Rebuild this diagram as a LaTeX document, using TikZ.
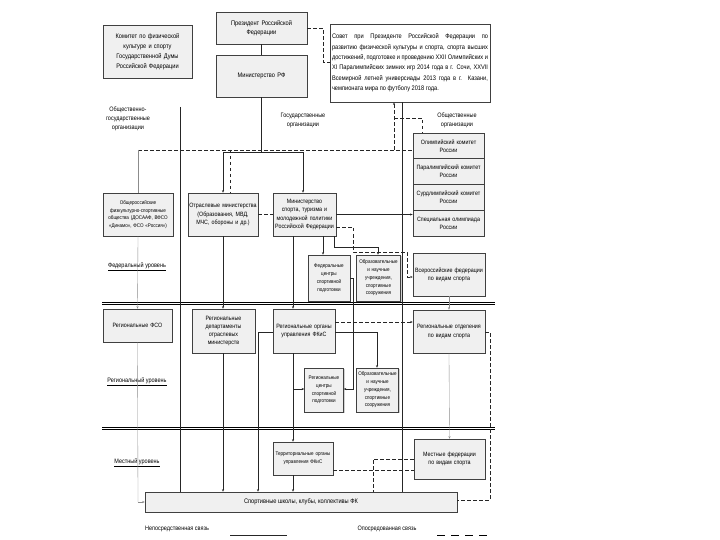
\documentclass[tikz,border=0pt]{standalone}
\usepackage{fontspec}
\setmainfont{Liberation Sans}[FakeStretch=0.86]
\usetikzlibrary{arrows.meta,shadows}
\begin{document}
\begin{tikzpicture}[x=1pt,y=-1pt,
  box/.style={draw=black!75, fill=black!6, line width=0.5pt, inner sep=1pt, align=center,
    font=\fontsize{6.2}{8.2}\selectfont, drop shadow={shadow xshift=1pt,shadow yshift=-1pt,opacity=0.35}},
  sbox/.style={box, font=\fontsize{5.3}{7.8}\selectfont},
  lbl/.style={align=center, font=\fontsize{6.4}{9}\selectfont, inner sep=0pt},
  con/.style={line width=0.55pt, black!85},
  thin/.style={line width=0.35pt, black!45},
  dsh/.style={line width=0.55pt, black!85, dash pattern=on 3.5pt off 2.5pt},
  sep/.style={line width=1pt, black!85},
  arr/.style={-{Stealth[length=2.5pt,width=2pt]}}]
\useasboundingbox (0,0) rectangle (720,540);

% top boxes
\node[box, minimum width=89, minimum height=53, text width=86, font=\fontsize{6.6}{10}\selectfont] (com) at (147.5,51.5)
  {Комитет по физической\\культуре и спорту\\Государственной Думы\\Российской Федерации};
\node[box, minimum width=91, minimum height=32, text width=86, font=\fontsize{6.6}{9.5}\selectfont] (pres) at (261.5,28) {Президент Российской\\Федерации};
\node[box, minimum width=91, minimum height=42, text width=86, font=\fontsize{6.6}{9.5}\selectfont] (minrf) at (261.5,76) {Министерство РФ};
\node[box, fill=white, line width=0.8pt, minimum width=160, minimum height=78, text width=156, align=justify,
  font=\fontsize{6.6}{10.4}\selectfont] (council) at (410,63)
  {Совет при Президенте Российской Федерации по развитию физической культуры и спорта, спорта высших достижений, подготовке и проведению XXII Олимпийских и XI Паралимпийских зимних игр 2014 года в г. Сочи, XXVII Всемирной летней универсиады 2013 года в г. Казани, чемпионата мира по футболу 2018 года.};

% column labels
\node[lbl] (ogo) at (128,119) {Общественно-\\государственные\\организации};
\node[lbl] (gos) at (303,120) {Государственные\\организации};
\node[lbl] (obs) at (457,120) {Общественные\\организации};

% public organisations group
\node[box, line width=0.7pt, minimum width=71, minimum height=25.75, text width=68] (olymp) at (448.5,145.9) {Олимпийский комитет\\России};
\node[box, line width=0.7pt, minimum width=71, minimum height=25.75, text width=68] (paral) at (448.5,171.6) {Паралимпийский комитет\\России};
\node[box, line width=0.7pt, minimum width=71, minimum height=25.75, text width=68] (surd) at (448.5,197.4) {Сурдлимпийский комитет\\России};
\node[box, line width=0.7pt, minimum width=71, minimum height=25.75, text width=68] (spec) at (448.5,223.1) {Специальная олимпиада\\России};

% federal level
\node[sbox, minimum width=70, minimum height=43, text width=66] (fso) at (138,214.5)
  {Общероссийские физкультурно-спортивные общества (ДОСААФ, ВФСО «Динамо», ФСО «Россия»)};
\node[box, minimum width=70, minimum height=43, text width=68] (otr) at (223,214.5)
  {Отраслевые министерства (Образования, МВД, МЧС, обороны и др.)};
\node[box, minimum width=63, minimum height=43, text width=61] (minsport) at (304.5,214.5)
  {Министерство спорта, туризма и молодежной политики Российской Федерации};
\node[sbox, minimum width=42, minimum height=46, text width=40] (fedc) at (329,278)
  {Федеральные центры спортивной подготовки};
\node[sbox, minimum width=43, minimum height=46, text width=42] (fedobr) at (378.5,278)
  {Образовательные и научные учреждения, спортивные сооружения};
\node[box, minimum width=72, minimum height=43, text width=70] (vseros) at (449,274.5)
  {Всероссийские федерации по видам спорта};
\node[lbl] (fedl) at (137,267) {\underline{Федеральный уровень}};

% regional level
\node[box, minimum width=69, minimum height=33, text width=66] (regfso) at (137.5,325.5) {Региональные ФСО};
\node[box, minimum width=63, minimum height=44, text width=60] (regdep) at (223.5,331)
  {Региональные департаменты отраслевых министерств};
\node[box, minimum width=62, minimum height=44, text width=60] (regorg) at (304,331)
  {Региональные органы управления ФКиС};
\node[box, minimum width=72, minimum height=43, text width=70] (regotd) at (449,331.5)
  {Региональные отделения по видам спорта};
\node[lbl] (regl) at (137,382) {\underline{Региональный уровень}};
\node[sbox, minimum width=38, minimum height=44, text width=37] (regc) at (324,390)
  {Региональные центры спортивной подготовки};
\node[sbox, minimum width=41, minimum height=44, text width=40] (regobr) at (377.5,390)
  {Образовательные и научные учреждения, спортивные сооружения};

% local level
\node[sbox, minimum width=60, minimum height=33, text width=58] (terr) at (303,458.5)
  {Территориальные органы управления ФКиС};
\node[box, minimum width=71, minimum height=40, text width=68] (mestfed) at (449.5,459)
  {Местные федерации по видам спорта};
\node[lbl] (locl) at (137,463) {\underline{Местный уровень}};
\node[box, minimum width=312, minimum height=20, font=\fontsize{6.6}{8}\selectfont] (school) at (301,502)
  {Спортивные школы, клубы, коллективы ФК};

% legend
\node[lbl] (leg1) at (177,529) {Непосредственная связь};
\node[lbl] (leg2) at (387,529) {Опосредованная связь};
\coordinate (l1a) at (230,535); \coordinate (l1b) at (287,535);
\coordinate (l2a) at (437,535); \coordinate (l2b) at (487,535);
\draw[con] (l1a) -- (l1b);
\draw[line width=0.55pt, dash pattern=on 8pt off 6pt] (l2a) -- (l2b);

% level separators
\draw[line width=0.6pt] (102,302) -- (495,302);
\draw[line width=0.6pt] (102,304.2) -- (495,304.2);
\draw[line width=0.6pt] (102,427) -- (495,427);
\draw[line width=0.6pt] (102,429.2) -- (495,429.2);

% column separators
\coordinate (c180t) at (180,107); \coordinate (c180b) at (180,492);
\draw[sep] (c180t) -- (c180b);
\draw[sep] (council.south -| 402,0) -- (402,492);

% president - ministry - council
\draw[con] (pres) -- (minrf);
\coordinate (pr1) at (323,28); \coordinate (pr2) at (323,62);
\draw[dsh] (pres.east) -- (pr1) -- (pr2) -- (council.west |- pr2);
\coordinate (jn) at (261.5,152);
\coordinate (jl) at (223,152); \coordinate (jr) at (303,152);
\draw[con] (minrf) -- (jn);
\draw[con] (jl) -- (jr);
\draw[con,arr] (jl) -- (otr.north -| jl);
\draw[con,arr] (jr) -- (minsport.north -| jr);

% dashed public-state link
\coordinate (d1) at (138,150); \coordinate (d2) at (413,150);
\draw[dsh] (d1) -- (d2);
\coordinate (d3) at (394,150); \coordinate (d4) at (394,118); \coordinate (d5) at (422,118);
\draw[dsh,arr] (d3) -- (council.south -| d3);
\draw[dsh] (d4) -- (d5) -- (olymp.north -| d5);
\coordinate (d6) at (230,150);
\draw[dsh] (d6) -- (otr.north -| d6);

% thin FSO line
\draw[thin] (d1) -- (fso.north);
\draw[thin,arr] (fso.south) -- (regfso.north);
\coordinate (f1) at (138,502);
\draw[thin] (regfso.south) -- (f1);
\draw[thin,arr] (f1) -- (school.west);

% federal links
\draw[dsh] (otr.east) -- (minsport.west);
\draw[con,arr] (minsport.east) -- (spec.west |- minsport.east);
\coordinate (m1) at (323,236);
\draw[con,arr] (m1) -- (fedc.north -| m1);
\coordinate (m2) at (334,236); \coordinate (m3) at (334,247); \coordinate (m4) at (378,247);
\draw[con,arr] (m2) -- (m3) -- (m4) -- (fedobr.north -| m4);
\coordinate (e1) at (336,227); \coordinate (e2) at (353,227); \coordinate (e3) at (353,252);
\coordinate (e4) at (407,252); \coordinate (e5) at (407,277);
\draw[dsh,arr] (e1) -- (e2) -- (e3) -- (e4) -- (e5) -- (vseros.west |- e5);

% vertical state lines
\coordinate (v1) at (293,236);
\draw[con,arr] (v1) -- (regorg.north -| v1);
\draw[con,arr] (regorg.south -| v1) -- (terr.north -| v1);
\draw[con,arr] (terr.south -| v1) -- (school.north -| v1);
\coordinate (v2) at (293,389);
\draw[con,arr] (v2) -- (regc.west |- v2);
\draw[con,arr] (otr.south -| 223,0) -- (regdep.north -| 223,0);
\draw[con,arr] (regdep.south -| 223,0) -- (school.north -| 223,0);
\coordinate (r1) at (258,332);
\draw[con,arr] (regorg.west |- r1) -- (r1) -- (school.north -| r1);
\coordinate (r2) at (377,332);
\draw[con,arr] (regorg.east |- r2) -- (r2) -- (regobr.north -| r2);
\coordinate (r3) at (335,322);
\draw[dsh,arr] (r3) -- (regotd.west |- r3);
\coordinate (fc1) at (353,278); \coordinate (fc2) at (353,389);
\draw[con,arr] (fedc.east |- fc1) -- (fc1) -- (fc2) -- (regc.east |- fc2);

% public federations chain
\draw[thin,arr] (vseros.south) -- (regotd.north);
\draw[thin,arr] (regotd.south) -- (mestfed.north);
\coordinate (o1) at (490,332); \coordinate (o2) at (490,500);
\draw[dsh] (regotd.east |- o1) -- (o1) -- (o2) -- (school.east |- o2);

% local links
\coordinate (t1) at (333,470);
\draw[dsh] (terr.east |- t1) -- (mestfed.west |- t1);
\coordinate (t2) at (373,459);
\draw[dsh] (mestfed.west |- t2) -- (t2) -- (school.north -| t2);
\end{tikzpicture}
\end{document}
